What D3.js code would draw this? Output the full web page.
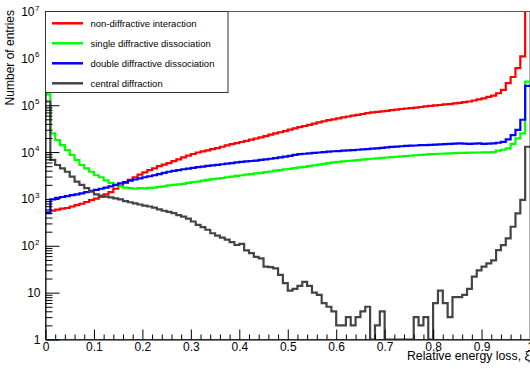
<!DOCTYPE html>
<html>
<head>
<meta charset="utf-8">
<script src="https://cdn.jsdelivr.net/npm/d3@7"></script>
<style>
body { margin: 0; background: #fff; }
text { font-family: "Liberation Sans", Arial, Helvetica, sans-serif; fill: #000; }
</style>
</head>
<body>
<svg id="chart" width="530" height="369"></svg>
<script>
// histogram: 100 bins of width 0.01 over xi in [0, 1]
var nBins = 100, xMin = 0, xMax = 1;

var seriesNames = ["non-diffractive interaction", "single diffractive dissociation",
                   "double diffractive dissociation", "central diffraction"];
var seriesColors = ["#ff0000", "#00ff00", "#0000ff", "#444444"];

var nonDiffractive = [
  530, 560, 590, 620, 640, 690, 740, 790, 860, 940,
  1020, 1100, 1250, 1400, 1650, 1900, 2200, 2550, 2900, 3300,
  3700, 4100, 4500, 5000, 5400, 5800, 6400, 7000, 7700, 8400,
  9100, 9800, 10300, 10900, 11600, 12200, 13000, 13900, 14800, 15500,
  16400, 17300, 18400, 19500, 20500, 22000, 23500, 25000, 26500, 28000,
  30000, 32000, 34000, 36000, 38000, 40500, 43000, 45500, 48000, 50000,
  52500, 55000, 57500, 60000, 62500, 65000, 67500, 70000, 72000, 74000,
  76000, 78500, 80500, 83000, 85000, 87000, 89000, 91500, 94000, 96500,
  99000, 101000, 104000, 106000, 109000, 112000, 116000, 120000, 126000, 133000,
  140000, 150000, 160000, 180000, 212000, 295000, 400000, 620000, 1100000, 30000000
];

var singleDiffractive = [
  170000, 25000, 18000, 14000, 11000, 8700, 6800, 5300, 4500, 3800,
  3200, 2900, 2500, 2200, 2000, 1850, 1750, 1700, 1650, 1700,
  1680, 1720, 1750, 1800, 1850, 1950, 2000, 2050, 2100, 2200,
  2300, 2350, 2450, 2550, 2650, 2700, 2800, 2900, 3000, 3100,
  3200, 3300, 3400, 3500, 3600, 3750, 3850, 4000, 4100, 4300,
  4400, 4550, 4700, 4850, 5000, 5200, 5400, 5600, 5800, 6000,
  6150, 6300, 6450, 6600, 6750, 6900, 7050, 7200, 7350, 7500,
  7650, 7800, 7950, 8100, 8250, 8400, 8550, 8700, 8850, 9000,
  9100, 9200, 9300, 9400, 9500, 9600, 9650, 9700, 9750, 9800,
  9850, 9900, 10000, 10700, 11200, 12000, 15000, 19600, 25000, 320000
];

var doubleDiffractive = [
  500, 980, 1050, 1100, 1150, 1200, 1250, 1320, 1400, 1480,
  1560, 1650, 1750, 1850, 2000, 2150, 2300, 2450, 2600, 2750,
  2900, 3050, 3200, 3400, 3600, 3800, 3950, 4100, 4300, 4450,
  4600, 4750, 4900, 5050, 5200, 5350, 5500, 5650, 5800, 6000,
  6150, 6300, 6450, 6600, 6800, 7000, 7200, 7400, 7700, 8000,
  8300, 8700, 9000, 9200, 9400, 9600, 9800, 10000, 10200, 10400,
  10500, 10700, 10900, 11000, 11200, 11400, 11600, 11800, 12000, 12300,
  12600, 12900, 13100, 13300, 13500, 13700, 13800, 14000, 14100, 14200,
  14400, 14600, 14800, 15000, 15200, 15300, 15200, 15000, 15100, 15300,
  15000, 15200, 15300, 15800, 16500, 18700, 23000, 29700, 49000, 258000
];

var centralDiffraction = [
  120000, 6800, 5300, 4500, 3800, 3000, 2350, 2000, 1700, 1430,
  1250, 1180, 1120, 1080, 1030, 980, 900, 850, 800, 760,
  720, 690, 650, 600, 560, 530, 500, 450, 420, 380,
  330, 280, 250, 220, 185, 165, 150, 135, 120, 104,
  110, 80, 70, 58, 54, 36, 35, 33, 24, 16,
  11, 12, 14, 17, 14, 10, 9, 6, 5, 4,
  2, 2, 3, 2, 3, 4, 5, 1, 2, 4,
  1, 1, 1, 1, 1, 1, 3, 2, 3, 1,
  6, 11, 6, 3, 8, 8, 9, 12, 22, 30,
  36, 42, 49, 81, 103, 144, 255, 490, 950, 13000
];

var xMajorTicks = [0, 0.1, 0.2, 0.3, 0.4, 0.5, 0.6, 0.7, 0.8, 0.9, 1];
var xTickLabels = ["0", "0.1", "0.2", "0.3", "0.4", "0.5", "0.6", "0.7", "0.8", "0.9", "1"];
var yMajorTicks = [1, 10, 1e2, 1e3, 1e4, 1e5, 1e6, 1e7];
var yExponents = [0, 1, 2, 3, 4, 5, 6, 7];

var allSeries = [nonDiffractive, singleDiffractive, doubleDiffractive, centralDiffraction];

var plotLeft = 45.5, plotRight = 530, plotTop = 11.5, plotBottom = 339.5;

var x = d3.scaleLinear().domain([xMin, xMax]).range([plotLeft, plotRight]);
var y = d3.scaleLog().domain([1, 1e7]).range([plotBottom, plotTop]);

var svg = d3.select("#chart");

svg.append("defs").append("clipPath").attr("id", "plotclip")
  .append("rect")
    .attr("x", plotLeft).attr("y", plotTop)
    .attr("width", plotRight - plotLeft).attr("height", plotBottom - plotTop);

// frame
svg.append("rect")
    .attr("x", plotLeft).attr("y", plotTop)
    .attr("width", plotRight - plotLeft).attr("height", plotBottom - plotTop)
    .attr("fill", "none")
    .attr("stroke", "#555");

// histograms
var binWidth = (xMax - xMin) / nBins;
var line = d3.line()
    .x(function(d) { return x(d[0]); })
    .y(function(d) { return y(Math.max(d[1], 1)); })
    .curve(d3.curveStepAfter);

var plot = svg.append("g").attr("clip-path", "url(#plotclip)");

allSeries.forEach(function(vals, k) {
  var pts = vals.map(function(v, i) { return [xMin + i * binWidth, v]; });
  pts.push([xMax, vals[vals.length - 1]]);
  plot.append("path")
      .datum(pts)
      .attr("fill", "none")
      .attr("stroke", seriesColors[k])
      .attr("stroke-width", 2.2)
      .attr("d", line);
});

// x axis
var xMinor = d3.range(0, 51).map(function(i) { return i / 50; })
    .filter(function(v, i) { return i % 5 !== 0; });

svg.append("g")
    .attr("transform", "translate(0," + plotBottom + ")")
    .call(d3.axisBottom(x).tickValues(xMinor).tickSize(-5).tickSizeOuter(0).tickFormat(""))
    .call(function(g) { g.select(".domain").remove(); });

var xAxisG = svg.append("g")
    .attr("transform", "translate(0," + plotBottom + ")")
    .call(d3.axisBottom(x).tickValues(xMajorTicks).tickSize(-10).tickSizeOuter(0).tickPadding(3)
      .tickFormat(function(d, i) { return xTickLabels[i]; }));
xAxisG.select(".domain").attr("stroke", "#000");
xAxisG.selectAll("text").attr("font-size", 12).attr("font-family", null);

// y axis
var yMinor = [];
yExponents.slice(0, 7).forEach(function(e) {
  [2, 3, 4, 5, 6, 7, 8, 9].forEach(function(m) { yMinor.push(m * Math.pow(10, e)); });
});

svg.append("g")
    .attr("transform", "translate(" + plotLeft + ",0)")
    .call(d3.axisLeft(y).tickValues(yMinor).tickSize(-7).tickSizeOuter(0).tickFormat(""))
    .call(function(g) { g.select(".domain").remove(); });

var yAxisG = svg.append("g")
    .attr("transform", "translate(" + plotLeft + ",0)")
    .call(d3.axisLeft(y).tickValues(yMajorTicks).tickSize(-14).tickSizeOuter(0).tickFormat(""));
yAxisG.select(".domain").attr("stroke", "#000");

yMajorTicks.forEach(function(v, i) {
  var e = yExponents[i];
  var t = svg.append("text")
      .attr("x", e < 2 ? 40.5 : 34.5)
      .attr("y", y(v) + 4.5)
      .attr("text-anchor", "end")
      .attr("font-size", 12);
  if (e === 0) t.text("1");
  else if (e === 1) t.text("10");
  else {
    t.text("10");
    svg.append("text")
        .attr("x", 35)
        .attr("y", y(v) - 1)
        .attr("font-size", 8)
        .text(e);
  }
});

// axis titles
svg.append("text")
    .attr("x", 530)
    .attr("y", 360)
    .attr("text-anchor", "end")
    .attr("font-size", 12.3)
    .text("Relative energy loss, \u03be");

svg.append("text")
    .attr("transform", "translate(14,10) rotate(-90)")
    .attr("text-anchor", "end")
    .attr("font-size", 12)
    .text("Number of entries");

// legend
var legend = svg.append("g");
legend.append("rect")
    .attr("x", plotLeft).attr("y", plotTop)
    .attr("width", 182.5).attr("height", 81)
    .attr("fill", "#fff")
    .attr("stroke", "#333");

seriesNames.forEach(function(name, i) {
  var ly = 23.3 + i * 20;
  legend.append("line")
      .attr("x1", 52).attr("x2", 83)
      .attr("y1", ly).attr("y2", ly)
      .attr("stroke", seriesColors[i])
      .attr("stroke-width", 2.5);
  legend.append("text")
      .attr("x", 90.5)
      .attr("y", ly + 3.3)
      .attr("font-size", 9.5)
      .text(name);
});
</script>
</body>
</html>
